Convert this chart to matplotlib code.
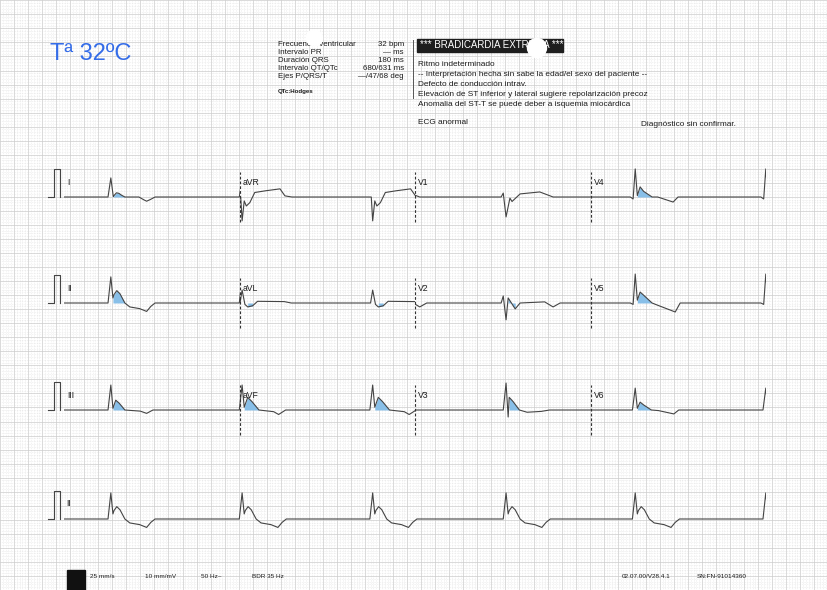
import numpy as np
import matplotlib
matplotlib.use("Agg")
import matplotlib.pyplot as plt
from matplotlib.patches import Rectangle, Circle

# paper geometry (A4 landscape scan)
W_PX, H_PX = 828, 590
PX_PER_MM = 2.808
PAPER_W = W_PX / PX_PER_MM
PAPER_H = H_PX / PX_PER_MM
MM_PER_S = 25.0
MM_PER_MV = 10.0
X0_MM = 22.97          # t = 0 of the strips

# R-peak times (s), 32 bpm
BEAT_TIMES = [0.66, 2.53, 4.39, 6.29, 8.13, 9.99]

# beat shapes: seconds from the R peak / mV
I_T = [-0.04, 0.0, 0.035, 0.045, 0.08, 0.115, 0.155, 0.20, 0.40, 0.47, 0.51, 0.57, 0.63]
I_MV = [0.0, 0.68, 0.02, 0.05, 0.15, 0.13, 0.06, 0.0, 0.0, -0.10, -0.15, -0.08, 0.0]
II_T = [-0.04, 0.0, 0.03, 0.045, 0.085, 0.13, 0.20, 0.27, 0.41, 0.51, 0.57, 0.63]
II_MV = [0.0, 0.93, 0.18, 0.30, 0.44, 0.33, 0.0, -0.14, -0.20, -0.30, -0.12, 0.0]
III_T = [-0.04, 0.0, 0.03, 0.07, 0.12, 0.20, 0.42, 0.51, 0.60]
III_MV = [0.0, 0.89, 0.06, 0.35, 0.24, 0.0, -0.04, -0.12, 0.0]
AVR_T = [-0.02, 0.0, 0.03, 0.06, 0.11, 0.18, 0.33, 0.54, 0.61, 0.71]
AVR_MV = [0.0, -0.85, -0.14, -0.32, -0.20, 0.16, 0.22, 0.29, 0.04, 0.0]
AVL_T = [-0.03, 0.0, 0.04, 0.08, 0.15, 0.22, 0.60, 0.70]
AVL_MV = [0.0, 0.46, -0.05, -0.14, -0.10, 0.06, 0.05, 0.0]
AVF_T = [-0.04, 0.0, 0.03, 0.08, 0.14, 0.24, 0.45, 0.52, 0.62]
AVF_MV = [0.0, 0.89, 0.10, 0.45, 0.30, 0.0, -0.06, -0.16, 0.0]
V1_T = [-0.07, -0.04, 0.0, 0.055, 0.085, 0.20, 0.48, 0.67]
V1_MV = [0.0, 0.14, -0.71, -0.04, -0.16, 0.11, 0.18, 0.0]
V2_T = [-0.07, -0.04, 0.0, 0.03, 0.13, 0.20, 0.55, 0.67, 0.77]
V2_MV = [0.0, 0.25, -0.60, 0.18, -0.21, 0.0, 0.04, -0.14, 0.0]
V3_T = [-0.04, 0.0, 0.03, 0.045, 0.10, 0.19, 0.30, 0.50, 0.62]
V3_MV = [0.0, 0.96, -0.25, 0.45, 0.30, 0.0, -0.08, -0.05, 0.0]
V4_T = [-0.07, -0.03, 0.0, 0.03, 0.07, 0.12, 0.24, 0.32, 0.54, 0.61]
V4_MV = [0.0, -0.07, 1.0, 0.05, 0.36, 0.20, 0.0, 0.0, -0.18, 0.0]
V5_T = [-0.07, -0.03, 0.0, 0.03, 0.07, 0.11, 0.24, 0.31, 0.57, 0.64]
V5_MV = [0.0, -0.05, 1.03, 0.10, 0.39, 0.30, 0.0, -0.07, -0.32, 0.0]
V6_T = [-0.04, 0.0, 0.03, 0.07, 0.12, 0.23, 0.33, 0.55, 0.62]
V6_MV = [0.0, 0.78, 0.06, 0.28, 0.18, 0.0, -0.02, -0.14, 0.0]

# J-wave (Osborn) shading window per lead, s from R
SHADE = {"I": (0.035, 0.20), "II": (0.03, 0.20), "III": (0.03, 0.20),
         "aVL": (0.05, 0.18), "aVF": (0.03, 0.24), "V2": (0.03, 0.13),
         "V3": (0.045, 0.19), "V4": (0.03, 0.24), "V5": (0.03, 0.24),
         "V6": (0.03, 0.23)}

# calibration pulse
CAL_T = [-0.235, -0.15, -0.15, -0.064, -0.064]
CAL_MV = [0.0, 0.0, 1.0, 1.0, 0.0]

ROW_LEADS = [["I", "aVR", "V1", "V4"],
             ["II", "aVL", "V2", "V5"],
             ["III", "aVF", "V3", "V6"]]
RHYTHM_LEAD = "II"
SEG_S = 2.5
STRIP_S = 10.0

SHAPES = {"I": (I_T, I_MV), "II": (II_T, II_MV), "III": (III_T, III_MV),
          "aVR": (AVR_T, AVR_MV), "aVL": (AVL_T, AVL_MV), "aVF": (AVF_T, AVF_MV),
          "V1": (V1_T, V1_MV), "V2": (V2_T, V2_MV), "V3": (V3_T, V3_MV),
          "V4": (V4_T, V4_MV), "V5": (V5_T, V5_MV), "V6": (V6_T, V6_MV)}

ROW_BASE_PX = [197, 303, 410, 519]

TRACE = "#444444"
BLUE_FILL = "#88bfe8"
TEXT = "#1c1c1c"
SANS = ["Liberation Sans", "DejaVu Sans"]


def mm(px_x, px_y):
    return px_x / PX_PER_MM, (H_PX - px_y) / PX_PER_MM


def xs(t):
    return X0_MM + np.asarray(t) * MM_PER_S


def lead_trace(name):
    t_tpl, mv_tpl = SHAPES[name]
    ts, vs = [0.0], [0.0]
    for b in BEAT_TIMES:
        ts += [b + d for d in t_tpl]
        vs += list(mv_tpl)
    return np.array(ts), np.array(vs)


def draw_lead(ax, name, base, t_start, t_len, shade=True):
    clip = Rectangle((xs(t_start), 0), t_len * MM_PER_S, PAPER_H,
                     transform=ax.transData)
    ts, vs = lead_trace(name)
    ln, = ax.plot(xs(ts), base + vs * MM_PER_MV, color=TRACE, lw=0.8, zorder=4)
    ln.set_clip_path(clip)
    if shade and name in SHADE:
        s, e = SHADE[name]
        t_tpl, mv_tpl = np.array(SHAPES[name][0]), np.array(SHAPES[name][1])
        m = (t_tpl >= s) & (t_tpl <= e)
        for b in BEAT_TIMES:
            pc = ax.fill_between(xs(b + t_tpl[m]), base, base + mv_tpl[m] * MM_PER_MV,
                                 color=BLUE_FILL, lw=0, zorder=3)
            pc.set_clip_path(clip)


fig = plt.figure(figsize=(W_PX / 100, H_PX / 100), dpi=100)
ax = fig.add_axes([0, 0, 1, 1])
ax.set_xlim(0, PAPER_W)
ax.set_ylim(0, PAPER_H)
for sp in ax.spines.values():
    sp.set_visible(False)
ax.set_xticks(np.arange(0, PAPER_W, 5))
ax.set_yticks(np.arange(0, PAPER_H, 5))
ax.set_xticks(np.arange(0, PAPER_W, 1), minor=True)
ax.set_yticks(np.arange(0, PAPER_H, 1), minor=True)
ax.tick_params(which="both", length=0, labelbottom=False, labelleft=False)
ax.grid(which="major", color="#cccccc", lw=0.5)
ax.grid(which="minor", color="#dadada", lw=0.4, linestyle=(0, (1, 2)))
ax.set_axisbelow(True)

# 12 leads, 3 rows x 4 columns
for r, leads in enumerate(ROW_LEADS):
    base = mm(0, ROW_BASE_PX[r])[1]
    ax.plot(xs(CAL_T), base + np.array(CAL_MV) * MM_PER_MV, color=TRACE, lw=0.8)
    for c, name in enumerate(leads):
        t0 = c * SEG_S
        draw_lead(ax, name, base, t0, SEG_S)
        if c > 0:
            ax.plot([xs(t0), xs(t0)], [base - 9, base + 9], color="#333333",
                    lw=0.8, linestyle=(0, (2.5, 1.8)), zorder=5)
        ax.text(xs(t0) + 1.0, base + 5.3, name, fontsize=6.2, color=TEXT,
                family=SANS, va="center", ha="left", zorder=6)

# rhythm strip
base = mm(0, ROW_BASE_PX[3])[1]
ax.plot(xs(CAL_T), base + np.array(CAL_MV) * MM_PER_MV, color=TRACE, lw=0.8)
draw_lead(ax, RHYTHM_LEAD, base, 0.0, STRIP_S, shade=False)
ax.text(xs(0) + 0.6, base + 5.6, RHYTHM_LEAD, fontsize=6.2, color=TEXT,
        family=SANS, va="center", ha="left")

# temperature note
ax.text(*mm(50, 54), "Tª 32ºC", fontsize=17, color="#346ce8",
        family=SANS, va="center", ha="left")

# measurements block
meas_names = ["Frecuencia ventricular", "Intervalo PR", "Duración QRS",
              "Intervalo QT/QTc", "Ejes P/QRS/T"]
meas_vals = ["32 bpm", "— ms", "180 ms", "680/631 ms", "—/47/68 deg"]
meas_y = [44, 52, 60.5, 69, 77]
for n, v, y in zip(meas_names, meas_vals, meas_y):
    ax.text(*mm(278, y), n, fontsize=5.7, color=TEXT, family=SANS,
            va="center", ha="left")
    ax.text(*mm(404, y), v, fontsize=5.7, color=TEXT, family=SANS,
            va="center", ha="right")
ax.text(*mm(278, 91), "QTc:Hodges", fontsize=4.4, color=TEXT,
        family=SANS, weight="bold", va="center", ha="left")
ax.plot(*zip(mm(413, 40), mm(413, 98)), color="#555555", lw=0.7)

# interpretation block
x0, y0 = mm(417, 52)
x1, y1 = mm(563, 39)
ax.add_patch(Rectangle((x0, y0), x1 - x0, y1 - y0, color="#1e1e1e", zorder=5))
ax.text(*mm(420, 45.5), "*** BRADICARDIA EXTREMA ***", fontsize=7.0,
        color="white", family=SANS, va="center", ha="left", zorder=6)
interp = ["Ritmo indeterminado",
          "-- Interpretación hecha sin sabe la edad/el sexo del paciente --",
          "Defecto de conducción intrav.",
          "Elevación de ST inferior y lateral sugiere repolarización precoz",
          "Anomalia del ST-T se puede deber a isquemia miocárdica"]
interp_y = [64, 75, 84, 94, 104]
for s, y in zip(interp, interp_y):
    ax.text(*mm(418, y), s, fontsize=5.95, color=TEXT, family=SANS,
            va="center", ha="left")
ax.text(*mm(418, 123), "ECG anormal", fontsize=5.95, color=TEXT,
        family=SANS, va="center", ha="left")
ax.text(*mm(641, 124), "Diagnóstico sin confirmar.", fontsize=5.95,
        color=TEXT, family=SANS, va="center", ha="left")

# punch holes over the text
for cx, cy, rr in [(314.5, 38, 8), (537, 48, 9.5)]:
    ax.add_patch(Circle(mm(cx, cy), rr / PX_PER_MM, color="white", zorder=7))

# footer
bx0, by0 = mm(67, 590)
bx1, by1 = mm(85, 570)
ax.add_patch(Rectangle((bx0, by0), bx1 - bx0, by1 - by0, color="#111111"))
footer = ["25 mm/s", "10 mm/mV", "50 Hz~", "BDR 35 Hz", "02.07.00/V28.4.1",
          "SN:FN-91014360"]
footer_x = [90, 145, 201, 252, 622, 697]
for s, x in zip(footer, footer_x):
    ax.text(*mm(x, 576), s, fontsize=4.6, color=TEXT, family=SANS,
            va="center", ha="left")

fig.savefig("out.png", dpi=100)
